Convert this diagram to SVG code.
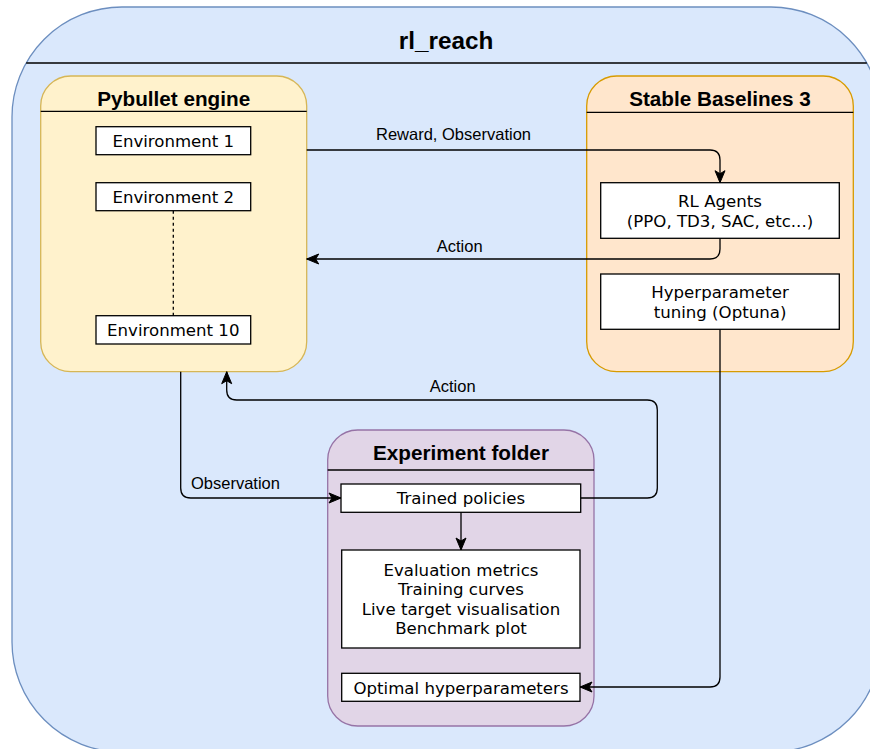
<svg xmlns="http://www.w3.org/2000/svg" width="870" height="749" viewBox="0 0 870 749">
<style>
.hdr{font-family:"Liberation Sans",Arial,sans-serif;font-weight:bold;fill:#000;text-anchor:middle}
.box{fill:#fff;stroke:#000;stroke-width:1.3}
.bt{font-family:"DejaVu Sans",Verdana,sans-serif;font-size:16.6px;fill:#000;text-anchor:middle}
.lbl{font-family:"Liberation Sans",Arial,sans-serif;font-size:16.5px;fill:#000;text-anchor:middle}
.sep{stroke:#000;stroke-width:1.3;fill:none}
.edge{fill:none;stroke:#000;stroke-width:1.3}
</style>
<defs>
<marker id="arr" markerUnits="userSpaceOnUse" markerWidth="14" markerHeight="12" viewBox="0 0 14 12" refX="13" refY="6" orient="auto">
<path d="M1,1 L13,6 L1,11 L4,6 z" fill="#000" stroke="#000" stroke-width="1"/>
</marker>
</defs>

<g id="rl_reach">
<rect x="12" y="7" width="869" height="745" rx="110" ry="110" fill="#dae8fc" stroke="#6c8ebf" stroke-width="1.3"/>
<line x1="26.2" y1="63" x2="866.8" y2="63" class="sep"/>
<text x="446" y="49" class="hdr" font-size="24.3">rl_reach</text>
</g>

<g id="pybullet">
<rect x="40.7" y="76" width="266" height="295.7" rx="30" ry="30" fill="#fff2cc" stroke="#d6b656" stroke-width="1.3"/>
<line x1="40.7" y1="111.3" x2="306.7" y2="111.3" class="sep"/>
<text x="173.7" y="105.5" class="hdr" font-size="20.7">Pybullet engine</text>
</g>

<g id="stable-baselines">
<rect x="586.7" y="76" width="266.6" height="295.7" rx="30" ry="30" fill="#ffe6cc" stroke="#d79b00" stroke-width="1.3"/>
<line x1="586.7" y1="112.3" x2="853.3" y2="112.3" class="sep"/>
<text x="720" y="105.5" class="hdr" font-size="20.7">Stable Baselines 3</text>
</g>

<g id="experiment-folder">
<rect x="327.7" y="430" width="266.3" height="296" rx="30" ry="30" fill="#e1d5e7" stroke="#9673a6" stroke-width="1.3"/>
<line x1="327.7" y1="470" x2="594" y2="470" class="sep"/>
<text x="461" y="459.5" class="hdr" font-size="20.7">Experiment folder</text>
</g>

<g id="env1">
<rect x="96" y="126.7" width="154.7" height="28" class="box"/>
<text x="173.3" y="147" class="bt">Environment 1</text>
</g>
<g id="env2">
<rect x="96" y="182.7" width="154.7" height="28" class="box"/>
<text x="173.3" y="203" class="bt">Environment 2</text>
</g>
<g id="env10">
<rect x="96" y="315.7" width="154.7" height="28.3" class="box"/>
<text x="173.3" y="336" class="bt">Environment 10</text>
</g>

<g id="rl-agents">
<rect x="600.7" y="182.7" width="238.6" height="55.6" class="box"/>
<text x="720" y="206.5" class="bt">RL Agents</text>
<text x="720" y="227" class="bt">(PPO, TD3, SAC, etc...)</text>
</g>
<g id="hyperparameter-tuning">
<rect x="600.7" y="274" width="238.6" height="55.3" class="box"/>
<text x="720" y="297.5" class="bt">Hyperparameter</text>
<text x="720" y="318" class="bt">tuning (Optuna)</text>
</g>

<g id="trained-policies">
<rect x="341" y="484" width="239.7" height="28.3" class="box"/>
<text x="461" y="504.3" class="bt">Trained policies</text>
</g>
<g id="evaluation">
<rect x="341.7" y="550" width="238.3" height="98" class="box"/>
<text x="461" y="575.7" class="bt">Evaluation metrics</text>
<text x="461" y="595.2" class="bt">Training curves</text>
<text x="461" y="614.7" class="bt">Live target visualisation</text>
<text x="461" y="634.2" class="bt">Benchmark plot</text>
</g>
<g id="optimal-hyperparameters">
<rect x="341.7" y="673.3" width="238.3" height="28" class="box"/>
<text x="461" y="693.5" class="bt">Optimal hyperparameters</text>
</g>

<g id="connectors">
<path class="edge" d="M306.7,150 H710 Q720,150 720,160 V182.7" marker-end="url(#arr)"/>
<path class="edge" d="M720,238.3 V249 Q720,259 710,259 H306.7" marker-end="url(#arr)"/>
<path class="edge" d="M580.7,498 H647.3 Q657.3,498 657.3,488 V410 Q657.3,400 647.3,400 H236.7 Q226.7,400 226.7,390 V371.7" marker-end="url(#arr)"/>
<path class="edge" d="M180.7,371.7 V488 Q180.7,498 190.7,498 H341" marker-end="url(#arr)"/>
<path class="edge" d="M461,512.3 V550" marker-end="url(#arr)"/>
<path class="edge" d="M720,329.3 V677 Q720,687 710,687 H580" marker-end="url(#arr)"/>
<path class="edge" d="M173.3,210.7 V315.7" stroke-dasharray="3,3"/>
<text x="453.5" y="139.5" class="lbl">Reward, Observation</text>
<text x="459.7" y="251.5" class="lbl">Action</text>
<text x="452.7" y="391.5" class="lbl">Action</text>
<text x="235.5" y="489" class="lbl">Observation</text>
</g>
</svg>
